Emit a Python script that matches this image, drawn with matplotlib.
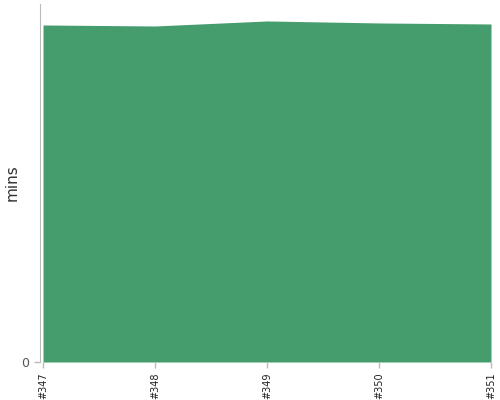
import matplotlib
matplotlib.use("Agg")
import matplotlib.pyplot as plt
import numpy as np

builds = ["#347", "#348", "#349", "#350", "#351"]
mins = [47.07, 46.93, 47.63, 47.35, 47.21]
y_top = 50

fig = plt.figure(figsize=(5, 4), dpi=100)
ax = fig.add_axes([0.08, 0.095, 0.902, 0.895])

x = np.arange(len(builds))
ax.fill_between(x, 0, mins, color="#459c6d", linewidth=0)

ax.set_xlim(-0.027, len(builds) - 1)
ax.set_ylim(0, y_top)
ax.set_xticks(x)
ax.set_xticklabels(builds, rotation=90, fontsize=7, color="#222222")
ax.set_yticks([0])
ax.set_yticklabels(["0"], fontsize=9, color="#555555")
ax.set_ylabel("mins", fontsize=11, color="#333333")
ax.yaxis.set_label_coords(-0.045, 0.5)

for s in ["top", "right", "bottom"]:
    ax.spines[s].set_visible(False)
ax.spines["left"].set_color("#bbbbbb")
ax.tick_params(axis="both", colors="#bbbbbb", length=4, width=1)
ax.tick_params(axis="x", labelcolor="#222222")
ax.tick_params(axis="y", labelcolor="#555555")

fig.savefig("out.png", dpi=100)
